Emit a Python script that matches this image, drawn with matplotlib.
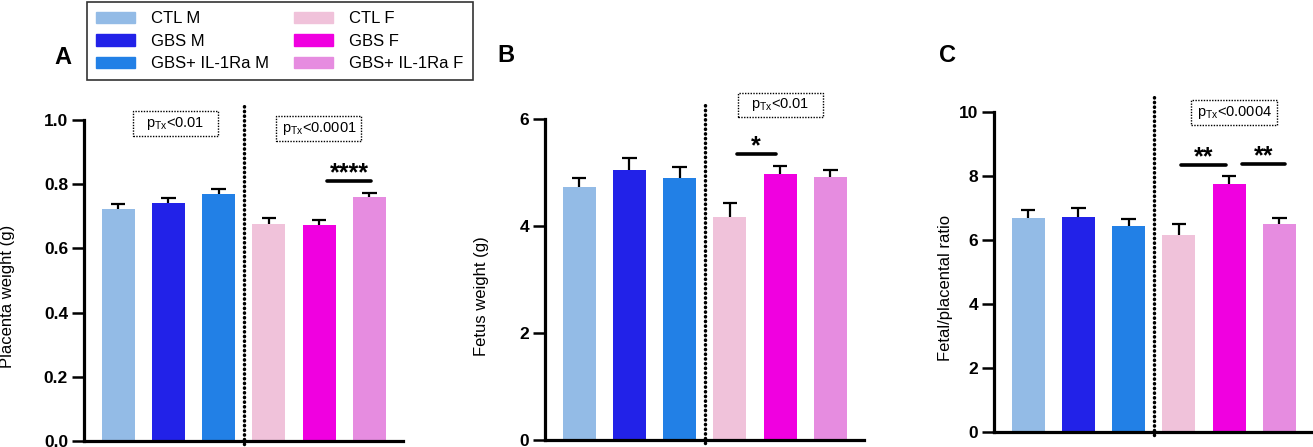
import numpy as np
import matplotlib
matplotlib.use('Agg')
import matplotlib.pyplot as plt
from matplotlib.patches import Patch, Rectangle

plt.rcParams['font.family'] = ['Liberation Sans', 'DejaVu Sans']
plt.rcParams['mathtext.fontset'] = 'custom'
plt.rcParams['mathtext.rm'] = 'Liberation Sans'
plt.rcParams['mathtext.it'] = 'Liberation Sans'

groups = ['CTL M', 'GBS M', 'GBS+ IL-1Ra M', 'CTL F', 'GBS F', 'GBS+ IL-1Ra F']
colors = ['#93bbe6', '#2222e8', '#2280e6', '#f0c2da', '#f000e0', '#e68ce0']

placenta_mean = [0.723, 0.740, 0.768, 0.675, 0.674, 0.759]
placenta_sem = [0.016, 0.018, 0.017, 0.019, 0.016, 0.014]
fetus_mean = [4.73, 5.05, 4.91, 4.17, 4.98, 4.92]
fetus_sem = [0.18, 0.22, 0.20, 0.27, 0.15, 0.13]
ratio_mean = [6.67, 6.71, 6.43, 6.15, 7.74, 6.50]
ratio_sem = [0.25, 0.29, 0.21, 0.36, 0.26, 0.19]

W, H = 1313, 447
fig = plt.figure(figsize=(W / 100, H / 100), dpi=100)


def px_axes(left, bottom, width, height):
    # pixel box (from top-left of image) -> figure axes
    return fig.add_axes([left / W, (H - bottom) / H, width / W, height / H])


def draw_panel(ax, means, sems, yticks, fmt, ylabel, label_x):
    x = np.arange(len(means))
    ax.bar(x, means, width=0.66, color=colors, zorder=2)
    tops = np.array(means) + np.array(sems)
    ax.vlines(x, means, tops, color='black', lw=1.6, zorder=3)
    ax.hlines(tops, x - 0.145, x + 0.145, color='black', lw=1.6, zorder=3)
    ax.set_xlim(-0.68, 5.67)
    ax.set_ylim(yticks[0], yticks[-1])
    ax.set_yticks(yticks)
    ax.set_yticklabels([fmt.format(t) for t in yticks], fontweight='bold', fontsize=12.5)
    ax.set_xticks([])
    for s in ['top', 'right']:
        ax.spines[s].set_visible(False)
    for s in ['left', 'bottom']:
        ax.spines[s].set_linewidth(2.3)
    ax.tick_params(axis='y', length=8.5, width=1.8, pad=3)
    ax.set_ylabel(ylabel, fontsize=12)
    ax.yaxis.set_label_coords(label_x, 0.45)
    # dotted separator between male and female groups
    ax.plot([2.5, 2.5], [-0.008, 1.045], color='black', lw=2.5,
            ls=(0, (0.1, 1.25)), transform=ax.get_xaxis_transform(),
            clip_on=False, zorder=4, dash_capstyle='round')


def p_box(ax, x0, x1, y0, y1, txt):
    ax.add_patch(Rectangle((x0, y0), x1 - x0, y1 - y0, fill=False, ec='black',
                           lw=1.0, ls=(0, (1, 1)), clip_on=False))
    ax.text((x0 + x1) / 2, (y0 + y1) / 2, txt, ha='center', va='center',
            fontsize=10.5, clip_on=False)


def sig(ax, x0, x1, y, stars, xs):
    ax.plot([x0, x1], [y, y], color='black', lw=2.6, solid_capstyle='round',
            clip_on=False)
    ax.annotate(stars, xy=(xs, y), xytext=(0, 0.5), textcoords='offset points',
                ha='center', va='baseline', fontsize=18, fontweight='bold',
                annotation_clip=False)


axA = px_axes(84, 441, 319, 321)
draw_panel(axA, placenta_mean, placenta_sem, [0.0, 0.2, 0.4, 0.6, 0.8, 1.0],
           '{:.1f}', 'Placenta weight (g)', -0.215)
p_box(axA, 0.29, 1.98, 0.950, 1.028, r'p$_{\mathrm{Tx}}$<0.01')
p_box(axA, 3.15, 4.84, 0.935, 1.012, r'p$_{\mathrm{Tx}}$<0.0001')
sig(axA, 4.15, 5.04, 0.81, '****', 4.6)

axB = px_axes(545, 440, 319, 320.7)
draw_panel(axB, fetus_mean, fetus_sem, [0, 2, 4, 6], '{:d}',
           'Fetus weight (g)', -0.177)
p_box(axB, 3.16, 4.85, 6.04, 6.50, r'p$_{\mathrm{Tx}}$<0.01')
sig(axB, 3.14, 3.92, 5.36, '*', 3.52)

axC = px_axes(994, 432.3, 319, 320.6)
draw_panel(axC, ratio_mean, ratio_sem, [0, 2, 4, 6, 8, 10], '{:d}',
           'Fetal/placental ratio', -0.13)
p_box(axC, 3.25, 4.95, 9.58, 10.38, r'p$_{\mathrm{Tx}}$<0.0004')
sig(axC, 3.04, 3.94, 8.33, '**', 3.49)
sig(axC, 4.25, 5.12, 8.38, '**', 4.68)

for letter, lx, ly in [('A', 63, 57), ('B', 506, 55), ('C', 947, 56)]:
    fig.text(lx / W, 1 - ly / H, letter, fontsize=17, fontweight='bold',
             ha='center', va='center')

handles = [Patch(color=c, label=g) for c, g in zip(colors, groups)]
leg = fig.legend(handles=handles, ncol=2, loc='upper left',
                 bbox_to_anchor=(87 / W, 1 - 2 / H), fontsize=12,
                 frameon=True, fancybox=False, edgecolor='black',
                 handlelength=2.3, handleheight=0.7, handletextpad=1.0,
                 columnspacing=1.5, labelspacing=0.45, borderpad=0.55,
                 borderaxespad=0)
leg.get_frame().set_linewidth(1.2)

fig.savefig('out.png', dpi=100)
